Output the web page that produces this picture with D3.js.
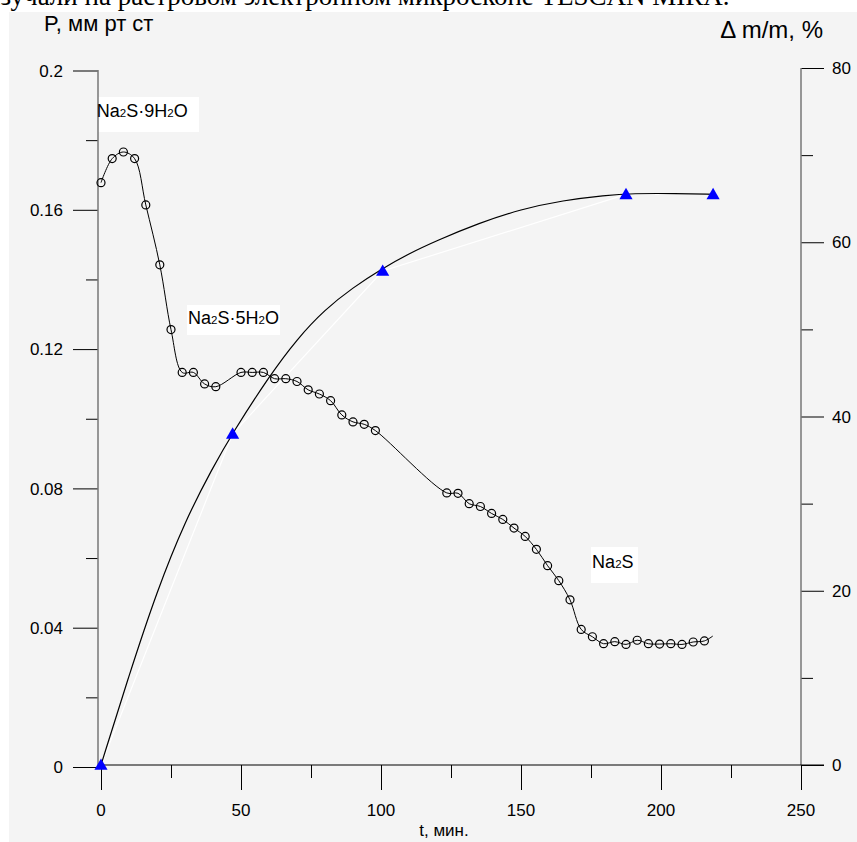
<!DOCTYPE html>
<html>
<head>
<meta charset="utf-8">
<script src="https://cdn.jsdelivr.net/npm/d3@7"></script>
<style>
body { margin: 0; background: #fff; }
svg { display: block; }
text { font-family: "Liberation Sans", Arial, sans-serif; fill: #000; }
</style>
</head>
<body>
<svg id="chart" width="857" height="842"></svg>
<script>
// vapour pressure over the hydrate, left axis
var pTime = [0, 4, 8, 12, 16, 21, 25, 29, 33, 37, 41, 50, 54, 58, 62, 66, 70, 74, 78, 82, 86, 90, 94, 98,
    123.5, 127.5, 131.5, 135.5, 139.5, 143.5, 147.5, 151.5, 155.5, 159.5, 163.5, 167.5, 171.5, 175.5,
    179.5, 183.5, 187.5, 191.5, 195.5, 199.5, 203.5, 207.5, 211.5, 215.5];
var pValue = [0.1678, 0.1747, 0.1766, 0.1747, 0.1614, 0.1442, 0.1256, 0.1133, 0.1133, 0.1100, 0.1092,
    0.1133, 0.1133, 0.1133, 0.1115, 0.1115, 0.1107, 0.1083, 0.1071, 0.1052, 0.1011, 0.0991, 0.0984, 0.0966,
    0.0787, 0.0786, 0.0756, 0.0748, 0.0728, 0.0711, 0.0686, 0.0662, 0.0625, 0.0578, 0.0535, 0.0480, 0.0395,
    0.0374, 0.0354, 0.0360, 0.0352, 0.0364, 0.0354, 0.0353, 0.0354, 0.0352, 0.0359, 0.0362];
var pTail = [218.5, 0.0376];

// mass loss, right axis
var mTime = [0, 47, 100.6, 187.5, 218.6];
var mValue = [0, 38, 56.7, 65.5, 65.5];
// smooth fitted curve through the mass points
var fitTime = [0, 10, 20, 30, 40, 47, 60, 70, 80, 90, 100, 110, 120, 135, 150, 165, 180, 190, 205, 218.6];
var fitValue = [0, 10.3, 20, 28, 34.2, 38.1, 44.6, 48.9, 52.3, 54.8, 56.9, 58.7, 60.2, 62.2, 63.8, 64.8, 65.4, 65.6, 65.6, 65.5];

var xMajor = [0, 50, 100, 150, 200, 250];
var xMinor = [25, 75, 125, 175, 225];
var pMajor = [0, 0.04, 0.08, 0.12, 0.16, 0.2];
var pMinor = [0.02, 0.06, 0.1, 0.14, 0.18];
var mMajor = [0, 20, 40, 60, 80];
var mMinor = [10, 30, 50, 70];

var labels = [
    {t: -1.5, p: 0.1866, parts: ["Na", "2", "S·9H", "2", "O"], box: [98, 97, 101, 35]},
    {t: 31.1, p: 0.1272, parts: ["Na", "2", "S·5H", "2", "O"], box: [187, 305, 93, 30]},
    {t: 175.4, p: 0.0571, parts: ["Na", "2", "S"], box: [591, 547, 47, 36]}
];

var svg = d3.select("#chart");

// page text cut off above the figure
svg.append("text")
    .attr("x", -14).attr("y", 5)
    .style("font-family", "'Liberation Serif', 'Times New Roman', serif")
    .style("font-size", "27px")
    .text("изучали на растровом электронном микроскопе TESCAN MIRA.");

svg.append("rect")
    .attr("x", 9).attr("y", 12)
    .attr("width", 848).attr("height", 830)
    .attr("fill", "#f4f4f4");

var x = d3.scaleLinear().domain([0, 250]).range([101, 801]);
var yP = d3.scaleLinear().domain([0, 0.2]).range([767, 70.5]);
var yM = d3.scaleLinear().domain([0, 80]).range([765, 68]);

// label boxes go under everything
labels.forEach(function (d) {
    svg.append("rect")
        .attr("x", d.box[0]).attr("y", d.box[1])
        .attr("width", d.box[2]).attr("height", d.box[3])
        .attr("fill", "#fff");
});

// left axis
var gl = svg.append("g").attr("transform", "translate(98,0)");
gl.call(d3.axisLeft(yP).tickValues(pMajor).tickSize(25).tickFormat(""));
gl.select(".domain").remove();
var glm = svg.append("g").attr("transform", "translate(98,0)");
glm.call(d3.axisLeft(yP).tickValues(pMinor).tickSize(12).tickFormat(""));
glm.select(".domain").remove();

svg.append("g").selectAll("text")
    .data(pMajor)
    .join("text")
    .attr("x", 63).attr("y", function (d) { return yP(d); })
    .attr("dy", "0.36em")
    .attr("text-anchor", "end")
    .style("font-size", "17px")
    .text(function (d) { return d3.format("")(d); });

svg.append("line")
    .attr("x1", 98).attr("x2", 98).attr("y1", 70).attr("y2", 766)
    .attr("stroke", "#777").attr("stroke-width", 1.5);

// right axis
var gr = svg.append("g").attr("transform", "translate(801,0)");
gr.call(d3.axisRight(yM).tickValues(mMajor).tickSize(23).tickFormat(""));
gr.select(".domain").remove();
var grm = svg.append("g").attr("transform", "translate(801,0)");
grm.call(d3.axisRight(yM).tickValues(mMinor).tickSize(12).tickFormat(""));
grm.select(".domain").remove();

svg.append("g").selectAll("text")
    .data(mMajor)
    .join("text")
    .attr("x", 832).attr("y", function (d) { return yM(d); })
    .attr("dy", "0.36em")
    .style("font-size", "17px")
    .text(function (d) { return d; });

svg.append("line")
    .attr("x1", 801).attr("x2", 801).attr("y1", 68).attr("y2", 765)
    .attr("stroke", "#777").attr("stroke-width", 1.5);

// bottom axis
var gb = svg.append("g").attr("transform", "translate(0,765)");
gb.call(d3.axisBottom(x).tickValues(xMajor).tickSize(25).tickFormat(""));
gb.select(".domain").remove();
var gbm = svg.append("g").attr("transform", "translate(0,765)");
gbm.call(d3.axisBottom(x).tickValues(xMinor).tickSize(13).tickFormat(""));
gbm.select(".domain").remove();
svg.selectAll(".tick line").attr("stroke", "#000");

svg.append("line")
    .attr("x1", 98).attr("x2", 824).attr("y1", 765).attr("y2", 765)
    .attr("stroke", "#000").attr("stroke-width", 1.2);

svg.append("g").selectAll("text")
    .data(xMajor)
    .join("text")
    .attr("x", function (d) { return x(d); }).attr("y", 810)
    .attr("dy", "0.36em")
    .attr("text-anchor", "middle")
    .style("font-size", "17px")
    .text(function (d) { return d; });

// axis titles
svg.append("text").attr("x", 44).attr("y", 31)
    .style("font-size", "22px").text("P, мм рт ст");
svg.append("text").attr("x", 444).attr("y", 836).attr("text-anchor", "middle")
    .style("font-size", "17px").text("t, мин.");
svg.append("text").attr("x", 823).attr("y", 38).attr("text-anchor", "end")
    .style("font-size", "24px").text("Δ m/m, %");

// mass: straight white polyline and fitted black curve
var mPts = mTime.map(function (t, i) { return [x(t), yM(mValue[i])]; });
svg.append("path")
    .attr("d", d3.line()(mPts))
    .attr("fill", "none").attr("stroke", "#fff").attr("stroke-width", 1.2);

var fitPts = fitTime.map(function (t, i) { return [x(t), yM(fitValue[i])]; });
svg.append("path")
    .attr("d", d3.line().curve(d3.curveBasis)(fitPts))
    .attr("fill", "none").attr("stroke", "#000").attr("stroke-width", 1.2);

// pressure curve
var pPts = pTime.map(function (t, i) { return [x(t), yP(pValue[i])]; });
var pLinePts = pPts.concat([[x(pTail[0]), yP(pTail[1])]]);
svg.append("path")
    .attr("d", d3.line().curve(d3.curveCatmullRom.alpha(0.5))(pLinePts))
    .attr("fill", "none").attr("stroke", "#000").attr("stroke-width", 1);

svg.append("g").selectAll("circle")
    .data(pPts)
    .join("circle")
    .attr("cx", function (d) { return d[0]; })
    .attr("cy", function (d) { return d[1]; })
    .attr("r", 4)
    .attr("fill", "none").attr("stroke", "#000").attr("stroke-width", 1.2);

svg.append("g").selectAll("path")
    .data(mPts)
    .join("path")
    .attr("transform", function (d) { return "translate(" + d[0] + "," + (d[1] + 1) + ")"; })
    .attr("d", d3.symbol().type(d3.symbolTriangle).size(75))
    .attr("fill", "#0000ff");

// phase labels with subscripts
labels.forEach(function (d) {
    var t = svg.append("text")
        .attr("x", x(d.t)).attr("y", yP(d.p))
        .style("font-size", "18px");
    d.parts.forEach(function (s, i) {
        t.append("tspan")
            .style("font-size", i % 2 == 1 ? "11.5px" : "18px")
            .text(s);
    });
});
</script>
</body>
</html>
